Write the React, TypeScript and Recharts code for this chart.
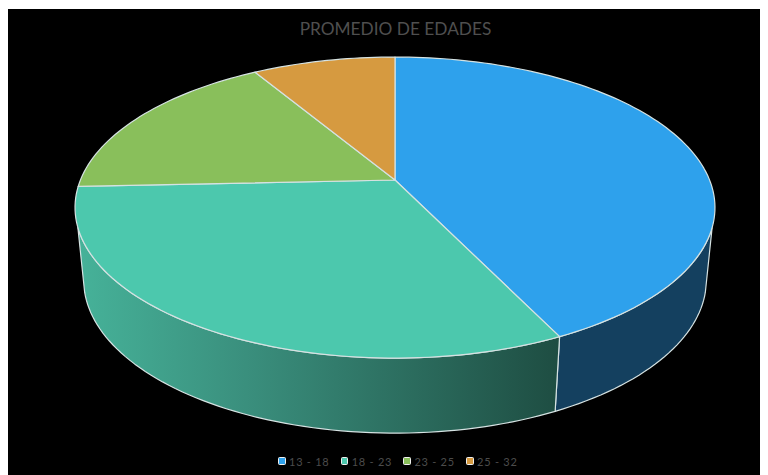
import React from "react";
import { PieChart, Pie, Legend } from "recharts";

const categories = ["13 - 18", "18 - 23", "23 - 25", "25 - 32"];
const shares = [42.8, 31.5, 17.1, 8.6];
const topColors = ["#2EA1EC", "#4CC8AD", "#89BF5B", "#D69A40"];
const wallFills = ["#14405F", "url(#tealWall)", "none", "none"];
const chartTitle = "PROMEDIO DE EDADES";

const tableRows = categories.map((name, i) => ({
  name,
  value: shares[i],
  fill: topColors[i],
  wall: wallFills[i],
}));

const EDGE = "#d5e2e2";
const TILT = 0.183;
const ASPECT = 2.162;

// Perspective view of a disc: clockwise angle from the top -> screen point.
function project(cx: number, cy: number, a: number, b: number, deg: number) {
  const r = (deg * Math.PI) / 180;
  const u = Math.sin(r);
  const v = -Math.cos(r);
  const d = 1 - TILT * v;
  return [cx + (a * u) / d, cy + (b * v) / d];
}

function arcPoints(cx: number, cy: number, a: number, b: number, from: number, to: number) {
  const n = Math.max(2, Math.ceil(Math.abs(to - from) / 1.5));
  const pts: number[][] = [];
  for (let i = 0; i <= n; i++) pts.push(project(cx, cy, a, b, from + ((to - from) * i) / n));
  return pts;
}

const toPath = (pts: number[][]) =>
  pts.map((p, i) => `${i ? "L" : "M"}${p[0].toFixed(2)} ${p[1].toFixed(2)}`).join(" ");

function Slice3D(props: any) {
  const { cx, cy, outerRadius, startAngle, endAngle, fill } = props;
  const wall = props.wall ?? props.payload?.wall ?? "none";
  const from = 90 - startAngle;
  const to = 90 - endAngle;
  const b = outerRadius;
  const a = b * ASPECT;
  const top = arcPoints(cx, cy, a, b, from, to);

  // lower rim sits further down and a little narrower
  const a2 = a * 0.973;
  const b2 = b * 1.017;
  const cy2 = cy + b * 0.495;
  const t1 = Math.max(from, 108);
  const t2 = Math.min(to, 252);
  const b1 = Math.max(from, 105);
  const b2a = Math.min(to, 255);
  const hasWall = wall !== "none" && t1 < t2;
  const wallPts = hasWall
    ? [...arcPoints(cx, cy, a, b, t1, t2), ...arcPoints(cx, cy2, a2, b2, b2a, b1)]
    : [];

  return (
    <g>
      <defs>
        <linearGradient id="tealWall" x1="0" y1="0" x2="1" y2="0">
          <stop offset="0%" stopColor="#46B299" />
          <stop offset="35%" stopColor="#3A8F7D" />
          <stop offset="100%" stopColor="#1E4D42" />
        </linearGradient>
      </defs>
      {hasWall && (
        <path d={toPath(wallPts) + " Z"} fill={wall} stroke={EDGE} strokeWidth={1.2} strokeLinejoin="round" />
      )}
      <path
        d={`M${cx} ${cy} ` + toPath(top).replace(/^M/, "L") + " Z"}
        fill={fill}
        stroke={EDGE}
        strokeWidth={1.2}
        strokeLinejoin="round"
      />
    </g>
  );
}

function LegendRow(props: any) {
  const items = props.payload ?? [];
  return (
    <div style={{ display: "flex", justifyContent: "flex-start", width: 300 }}>
      {items.map((it: any) => (
        <div key={it.value} style={{ display: "flex", alignItems: "center", width: 62.7, height: 14 }}>
          <span
            style={{
              width: 5.5,
              height: 5.5,
              border: "1.5px solid #f0f0f0",
              borderRadius: 1.5,
              background: it.color,
              marginRight: 3.5,
              flex: "none",
            }}
          />
          <span
            style={{
              fontFamily: "Lato, sans-serif",
              fontSize: 11,
              letterSpacing: 0.75,
              color: "#4c4c4c",
              whiteSpace: "pre",
            }}
          >
            {it.value}
          </span>
        </div>
      ))}
    </div>
  );
}

export default function App() {
  return (
    <div style={{ marginLeft: -1, marginTop: 1, width: 761, height: 466, background: "#000", overflow: "hidden" }}>
      <PieChart width={761} height={466} margin={{ top: 0, right: 0, bottom: 0, left: 0 }}>
        <text
          x={388.5}
          y={26}
          textAnchor="middle"
          fontFamily="Lato, sans-serif"
          fontSize={17.3}
          fill="#4f4f4f"
        >
          {chartTitle}
        </text>
        <Pie
          data={tableRows}
          dataKey="value"
          nameKey="name"
          cx={388}
          cy={171}
          innerRadius={0}
          outerRadius={145.5}
          startAngle={90}
          endAngle={-270}
          stroke="none"
          labelLine={false}
          shape={Slice3D}
          isAnimationActive={false}
        />
        <Legend
          content={<LegendRow />}
          wrapperStyle={{ position: "absolute", left: 271, top: 445, width: 300, bottom: "auto" }}
        />
      </PieChart>
    </div>
  );
}
